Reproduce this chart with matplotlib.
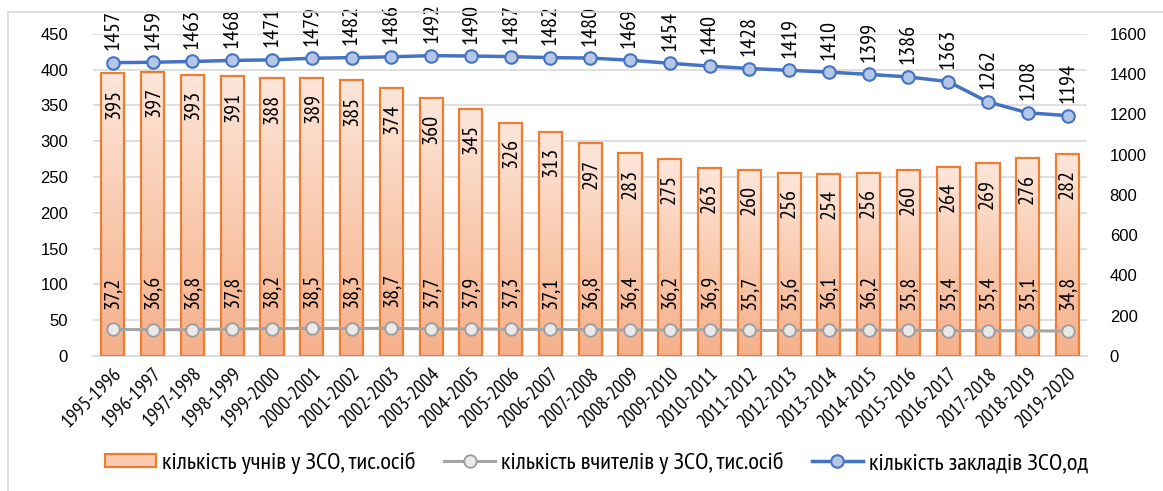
import numpy as np
import matplotlib.pyplot as plt
from matplotlib.colors import LinearSegmentedColormap
from matplotlib.lines import Line2D
from matplotlib.patches import Patch

plt.rcParams['font.family'] = ['Liberation Sans', 'DejaVu Sans']
narrow = ['PT Sans Narrow', 'Roboto Condensed', 'Liberation Sans']

years = ["1995-1996", "1996-1997", "1997-1998", "1998-1999", "1999-2000",
         "2000-2001", "2001-2002", "2002-2003", "2003-2004", "2004-2005",
         "2005-2006", "2006-2007", "2007-2008", "2008-2009", "2009-2010",
         "2010-2011", "2011-2012", "2012-2013", "2013-2014", "2014-2015",
         "2015-2016", "2016-2017", "2017-2018", "2018-2019", "2019-2020"]
students = [395, 397, 393, 391, 388, 389, 385, 374, 360, 345, 326, 313, 297,
            283, 275, 263, 260, 256, 254, 256, 260, 264, 269, 276, 282]
teachers = [37.2, 36.6, 36.8, 37.8, 38.2, 38.5, 38.3, 38.7, 37.7, 37.9, 37.3,
            37.1, 36.8, 36.4, 36.2, 36.9, 35.7, 35.6, 36.1, 36.2, 35.8, 35.4,
            35.4, 35.1, 34.8]
schools = [1457, 1459, 1463, 1468, 1471, 1479, 1482, 1486, 1492, 1490, 1487,
           1482, 1480, 1469, 1454, 1440, 1428, 1419, 1410, 1399, 1386, 1363,
           1262, 1208, 1194]

x = np.arange(len(years))
w = 0.58
orange = "#ED7D31"
blue = "#4472C4"
grey = "#A5A5A5"

fig = plt.figure(figsize=(11.63, 4.91), dpi=100)
ax = fig.add_axes([0.080, 0.275, 0.855, 0.656])
ax2 = ax.twinx()

# peach gradient inside each bar, lighter at the top
cmap = LinearSegmentedColormap.from_list("peach", ["#F5B08B", "#F9CAAF", "#FDE6DA"])
grad = np.linspace(0, 1, 256).reshape(-1, 1)
for xi, h in zip(x, students):
    ax.imshow(grad, cmap=cmap, origin="lower", aspect="auto",
              extent=[xi - w / 2, xi + w / 2, 0, h], zorder=2)
ax.bar(x, students, width=w, facecolor="none", edgecolor=orange,
       linewidth=1.6, zorder=3)

for xi, h in zip(x, students):
    ax.annotate(str(h), (xi, h), xytext=(0, -11), textcoords="offset points",
                rotation=90, ha="center", va="top", fontsize=16,
                family=narrow, zorder=5)

ax.plot(x, teachers, color=grey, lw=2.2, marker="o", ms=9,
        mfc="#E9E9E9", mec="#9C9C9C", mew=1.3, zorder=4)
for xi, v in zip(x, teachers):
    ax.annotate(f"{v:.1f}".replace(".", ","), (xi, v), xytext=(0, 15),
                textcoords="offset points", rotation=90, ha="center",
                va="bottom", fontsize=16, family=narrow, zorder=5)

ax2.plot(x, schools, color=blue, lw=2.5, marker="o", ms=9,
         mfc="#B4C7E7", mec=blue, mew=1.5, zorder=4)
for xi, v in zip(x, schools):
    ax2.annotate(str(v), (xi, v), xytext=(0, 9), textcoords="offset points",
                 rotation=90, ha="center", va="bottom", fontsize=16,
                 family=narrow)

ax.set_xlim(-0.5, len(years) - 0.5)
ax.set_ylim(0, 450)
ax.set_yticks(range(0, 451, 50))
ax2.set_ylim(0, 1600)
ax2.set_yticks(range(0, 1601, 200))

ax.set_xticks(x)
ax.set_xticklabels(years, rotation=45, ha="right", rotation_mode="anchor",
                   fontsize=14, family=narrow)
ax.grid(axis="y", color="#D9D9D9", lw=1.2, zorder=0)
ax.set_axisbelow(True)

for a in (ax, ax2):
    for s in a.spines.values():
        s.set_visible(False)
ax.spines["bottom"].set_visible(True)
ax.spines["bottom"].set_color("#D9D9D9")
ax.spines["bottom"].set_linewidth(1.2)
ax.tick_params(axis="x", length=0, pad=6)
ax.tick_params(axis="y", length=0, labelsize=12, pad=18)
ax2.tick_params(axis="y", length=0, labelsize=12, pad=16)

handles = [
    Patch(facecolor="#F9CAAF", edgecolor=orange, linewidth=1.6),
    Line2D([], [], color=grey, lw=2.2, marker="o", ms=9, mfc="#E9E9E9",
           mec="#9C9C9C", mew=1.3),
    Line2D([], [], color=blue, lw=2.5, marker="o", ms=9, mfc="#B4C7E7",
           mec=blue, mew=1.5),
]
labels = ["кількість учнів у ЗСО, тис.осіб",
          "кількість вчителів у ЗСО, тис.осіб",
          "кількість закладів ЗСО,од"]
fig.legend(handles, labels, loc="center", bbox_to_anchor=(0.513, 0.057),
           ncol=3, frameon=False, prop={"family": narrow, "size": 17.6},
           handlelength=2.1, handleheight=0.5, columnspacing=1.15,
           handletextpad=0.25)

# thin frame along the left and top edges
fig.add_artist(Line2D([8 / 1163, 8 / 1163], [0, 1 - 12 / 491],
                      transform=fig.transFigure, color="#D9D9D9", lw=1.2))
fig.add_artist(Line2D([8 / 1163, 1], [1 - 12 / 491, 1 - 12 / 491],
                      transform=fig.transFigure, color="#D9D9D9", lw=1.2))

fig.savefig("out.png", dpi=100)
